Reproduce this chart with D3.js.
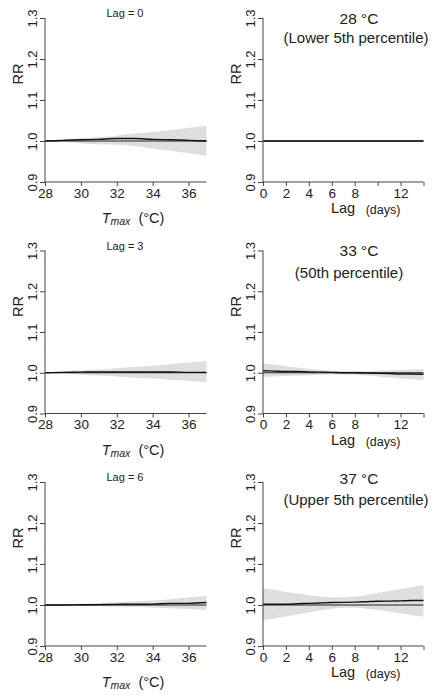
<!DOCTYPE html>
<html><head><meta charset="utf-8">
<script src="https://cdn.jsdelivr.net/npm/d3@7"></script>
<style>body{margin:0;background:#fff}svg{display:block}text{font-family:"Liberation Sans",Arial,sans-serif;fill:#222}</style>
</head><body>
<script>
// ---- data ----
const temps = [28,29,30,31,32,33,34,35,36,37];
const lags = [0,1,2,3,4,5,6,7,8,9,10,11,12,13,14];
const rrTicks = [0.9,1.0,1.1,1.2,1.3];
const tempTicks = [28,30,32,34,36];
const lagTicks = [0,2,4,6,8,10,12,14];
const lagTickLabels = ["0","2","4","6","8","","12",""];

const lag0Fit = [1.000,1.0015,1.003,1.004,1.006,1.006,1.004,1.003,1.0015,1.000];
const lag0Up  = [1.000,1.003,1.007,1.010,1.013,1.018,1.022,1.027,1.032,1.037];
const lag0Lo  = [1.000,0.998,0.994,0.992,0.991,0.988,0.982,0.976,0.970,0.964];

const lag3Fit = [1.000,1.001,1.0015,1.002,1.002,1.002,1.002,1.002,1.001,1.001];
const lag3Up  = [1.000,1.003,1.006,1.008,1.011,1.014,1.017,1.021,1.025,1.028];
const lag3Lo  = [1.000,0.998,0.995,0.993,0.991,0.988,0.986,0.983,0.980,0.977];

const lag6Fit = [1.000,1.000,1.0005,1.001,1.0015,1.002,1.002,1.004,1.004,1.006];
const lag6Up  = [1.000,1.001,1.003,1.005,1.007,1.009,1.011,1.014,1.018,1.022];
const lag6Lo  = [1.000,0.999,0.998,0.997,0.996,0.995,0.994,0.992,0.990,0.988];

const t28Fit = [1,1,1,1,1,1,1,1,1,1,1,1,1,1,1];

const t33Fit = [1.005,1.004,1.003,1.003,1.002,1.0015,1.001,1.000,1.000,0.999,0.9985,0.998,0.997,0.997,0.9965];
const t33Up  = [1.023,1.020,1.016,1.013,1.010,1.007,1.005,1.004,1.004,1.004,1.005,1.006,1.007,1.008,1.009];
const t33Lo  = [0.990,0.991,0.992,0.993,0.994,0.995,0.996,0.996,0.995,0.993,0.991,0.989,0.986,0.984,0.982];

const t37Fit = [1.002,1.002,1.002,1.003,1.004,1.005,1.006,1.0065,1.007,1.008,1.009,1.0095,1.010,1.011,1.011];
const t37Up  = [1.041,1.037,1.032,1.028,1.024,1.021,1.019,1.019,1.021,1.024,1.029,1.034,1.039,1.044,1.049];
const t37Lo  = [0.963,0.967,0.972,0.977,0.982,0.987,0.991,0.993,0.993,0.991,0.988,0.984,0.979,0.975,0.972];

// ---- layout ----
const W = 436, H = 698;
const svg = d3.select("body").append("svg").attr("width", W).attr("height", H);
const defs = svg.append("defs");
const pat = defs.append("pattern").attr("id","hatch").attr("patternUnits","userSpaceOnUse")
  .attr("width",2.5).attr("height",2.5).attr("patternTransform","rotate(45)");
pat.append("rect").attr("width",2.5).attr("height",2.5).attr("fill","#e4e4e4");
pat.append("line").attr("x1",0).attr("y1",0).attr("x2",0).attr("y2",2.5).attr("stroke","#c8c8c8").attr("stroke-width",1);

const rows = [[18,182],[250.5,413.5],[482,646]];
const cols = [[45,206.5],[263,423.5]];

function panel(ci, ri, xs, xDomain, xTicks, xTickLabels, fit, up, lo, opts) {
  const [x0,x1] = cols[ci], [y0,y1] = rows[ri];
  const x = d3.scaleLinear().domain(xDomain).range([x0,x1]);
  const y = d3.scaleLinear().domain([0.9,1.3]).range([y1,y0]);
  const g = svg.append("g");

  if (up) {
    const area = d3.area().x((d,i)=>x(xs[i])).y0((d,i)=>y(lo[i])).y1((d,i)=>y(up[i])).curve(d3.curveMonotoneX);
    g.append("path").datum(up).attr("d", area).attr("fill","url(#hatch)");
  }
  g.append("line").attr("x1",x(xDomain[0])).attr("x2",x(xDomain[1])).attr("y1",y(1)).attr("y2",y(1))
    .attr("stroke","#222").attr("stroke-width",1);
  const line = d3.line().x((d,i)=>x(xs[i])).y(d=>y(d)).curve(d3.curveMonotoneX);
  g.append("path").datum(fit).attr("d", line).attr("fill","none").attr("stroke","#111").attr("stroke-width",1.4);

  const ya = g.append("g").attr("transform",`translate(${x0},0)`)
    .call(d3.axisLeft(y).tickValues(rrTicks).tickSize(5).tickPadding(0).tickFormat(d3.format(".1f")));
  ya.select(".domain").attr("stroke","#444").attr("d",`M0,${y1}V${y0}`);
  ya.selectAll(".tick line").attr("stroke","#444");
  ya.selectAll(".tick text").attr("transform","rotate(-90)").attr("x",0).attr("y",-8).attr("dy","0")
    .attr("text-anchor","middle").style("font-size","13px").style("font-family","Liberation Sans, Arial").attr("fill","#333");
  g.append("text").attr("transform",`translate(${x0-22},${y0+56}) rotate(-90)`).attr("text-anchor","middle")
    .style("font-size","14.5px").text("RR");

  const xa = g.append("g").attr("transform",`translate(0,${y1})`)
    .call(d3.axisBottom(x).tickValues(xTicks).tickSize(4).tickPadding(2).tickFormat((d,i)=>xTickLabels[i]));
  xa.select(".domain").attr("stroke","#444").attr("d",`M${x0},0H${x1}`);
  xa.selectAll(".tick line").attr("stroke","#444");
  xa.selectAll(".tick text").style("font-size","13.5px").style("font-family","Liberation Sans, Arial").attr("fill","#333");

  if (opts.leftTitle) {
    g.append("text").attr("x",125).attr("y",y0-1).attr("text-anchor","middle").style("font-size","11px").text(opts.leftTitle);
    const t = g.append("text").attr("x",133).attr("y",y1+41).attr("text-anchor","middle").style("font-size","14.5px");
    t.append("tspan").attr("font-style","italic").text("T");
    t.append("tspan").attr("font-style","italic").style("font-size","10.5px").attr("dy",2).text("max");
    t.append("tspan").attr("dy",-2).text("\u00a0 (\u00b0C)");
  } else {
    g.append("text").attr("x",359).attr("y",y0+6 + (opts.dy1||0)).attr("text-anchor","middle").style("font-size","15.5px").text(opts.t1);
    g.append("text").attr("x",opts.cx2).attr("y",y0+25 + (opts.dy2||0)).attr("text-anchor","middle").style("font-size","15px").text(opts.t2);
    g.append("text").attr("x",343).attr("y",y1+31).attr("text-anchor","middle").style("font-size","14.5px").text("Lag");
    g.append("text").attr("x",383).attr("y",y1+32).attr("text-anchor","middle").style("font-size","12.5px").text("(days)");
  }
}

panel(0,0,temps,[28,37],tempTicks,tempTicks.map(String),lag0Fit,lag0Up,lag0Lo,{leftTitle:"Lag = 0"});
panel(0,1,temps,[28,37],tempTicks,tempTicks.map(String),lag3Fit,lag3Up,lag3Lo,{leftTitle:"Lag = 3"});
panel(0,2,temps,[28,37],tempTicks,tempTicks.map(String),lag6Fit,lag6Up,lag6Lo,{leftTitle:"Lag = 6"});
panel(1,0,lags,[0,14],lagTicks,lagTickLabels,t28Fit,null,null,{t1:"28 \u00b0C",t2:"(Lower 5th percentile)",cx2:356});
panel(1,1,lags,[0,14],lagTicks,lagTickLabels,t33Fit,t33Up,t33Lo,{t1:"33 \u00b0C",t2:"(50th percentile)",cx2:349,dy1:-1,dy2:2});
panel(1,2,lags,[0,14],lagTicks,lagTickLabels,t37Fit,t37Up,t37Lo,{t1:"37 \u00b0C",t2:"(Upper 5th percentile)",cx2:356,dy1:-4,dy2:-2});
</script>
</body></html>
